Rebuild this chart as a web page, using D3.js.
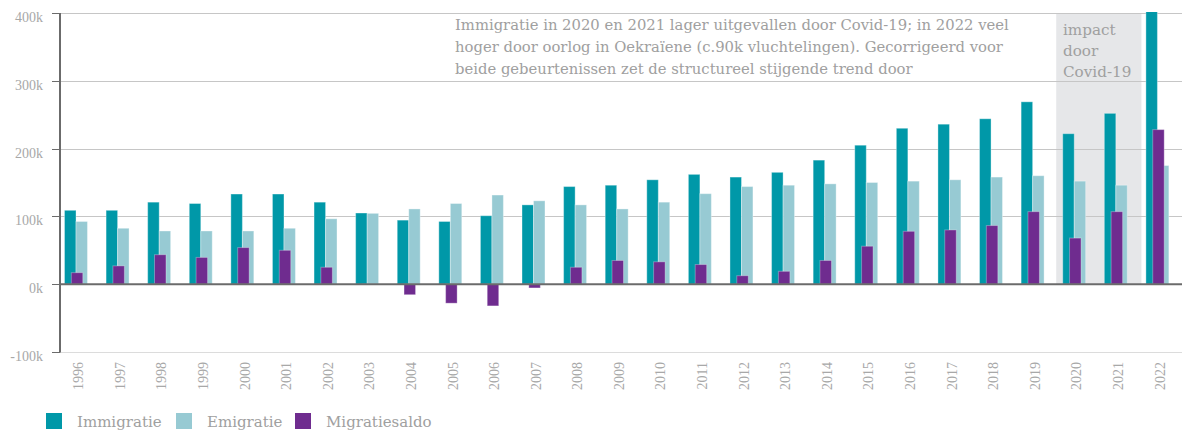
<!DOCTYPE html>
<html>
<head>
<meta charset="utf-8">
<script src="https://cdn.jsdelivr.net/npm/d3@7"></script>
<style>
  html, body { margin: 0; padding: 0; background: #fff; }
  svg { display: block; }
  text { font-family: "Liberation Serif", "DejaVu Serif", serif; }
  text.slab { font-family: "DejaVu Serif", "Liberation Serif", serif; }
</style>
</head>
<body>
<svg id="chart" width="1182" height="433"></svg>
<script>
const years = ["1996","1997","1998","1999","2000","2001","2002","2003","2004","2005","2006","2007","2008","2009","2010","2011","2012","2013","2014","2015","2016","2017","2018","2019","2020","2021","2022"];
const immigratie = [109,109,121,119,133,133,121,105,94.5,92.5,101,117,144,146,154,162,158,165,183,205,230,236,244,269,222,252,403];
const emigratie  = [92.5,82.5,78.5,78.5,78.5,82.5,96.5,104.5,111,119,131.5,123,117,111,121,133.5,144,146,148,150,152,154,158,160,152,146,175];
const saldo      = [17,27,43.5,39.5,54,50,25,-1,-15.5,-28,-32,-5.5,25,35,33,29,12.5,19,35,56,78,80,86.5,107,68,107,228];
const yTicks = [-100,0,100,200,300,400];
const seriesNames = ["Immigratie","Emigratie","Migratiesaldo"];
const colors = ["#0098a8","#97cad3","#6f2c8f"];
const annotationLines = [
  "Immigratie in 2020 en 2021 lager uitgevallen door Covid-19; in 2022 veel",
  "hoger door oorlog in Oekraïene (c.90k vluchtelingen). Gecorrigeerd voor",
  "beide gebeurtenissen zet de structureel stijgende trend door"
];
const covidLines = ["impact","door","Covid-19"];
const covidYears = ["2020","2021"];

const svg = d3.select("#chart");
const pLeft = 60, pRight = 1183, pTop = 13, pBottom = 352;

const x = d3.scaleBand().domain(years).range([pLeft, pRight]).paddingInner(0).paddingOuter(0);
const y = d3.scaleLinear().domain([-100, 400]).range([pBottom, pTop]);
const bw = x.bandwidth();

svg.append("defs").append("clipPath").attr("id","plot")
  .append("rect").attr("x", pLeft).attr("y", pTop - 1).attr("width", pRight - pLeft).attr("height", pBottom - pTop + 1);

// covid shading
svg.append("rect")
  .attr("x", x(covidYears[0]) - 2)
  .attr("y", y(400))
  .attr("width", x(covidYears[1]) + bw - x(covidYears[0]) + 2)
  .attr("height", y(0) - y(400))
  .attr("fill", "#e6e7e9");

// gridlines
svg.append("g").selectAll("line").data(yTicks.filter(d => d !== 0)).join("line")
  .attr("x1", pLeft).attr("x2", 1182)
  .attr("y1", d => Math.round(y(d)) + 0.5).attr("y2", d => Math.round(y(d)) + 0.5)
  .attr("stroke", d => d === -100 ? "#dcdcdc" : "#c6c6c6").attr("stroke-width", 1);

// y labels
svg.append("g").selectAll("text").data(yTicks).join("text")
  .attr("x", 43).attr("y", d => y(d) + 4).attr("dy", "0.35em")
  .attr("text-anchor", "end").attr("fill", "#a8a8a8").attr("font-size", 14)
  .text(d => d + "k");

// y ticks
svg.append("g").selectAll("line").data(yTicks).join("line")
  .attr("x1", 52).attr("x2", pLeft)
  .attr("y1", d => Math.round(y(d)) + 0.5).attr("y2", d => Math.round(y(d)) + 0.5)
  .attr("stroke", "#6b6b6b").attr("stroke-width", 1);

// annotation
const ann = svg.append("text").attr("class", "slab").attr("fill", "#a0a0a0").attr("font-size", 14.8);
annotationLines.forEach((l, i) => {
  ann.append("tspan").attr("x", 455).attr("y", 30 + i * 22).text(l);
});
const cov = svg.append("text").attr("class", "slab").attr("fill", "#a0a0a0").attr("font-size", 15.2);
covidLines.forEach((l, i) => {
  cov.append("tspan").attr("x", 1063).attr("y", 35 + i * 21).text(l);
});

// bars
const g = svg.append("g").attr("clip-path", "url(#plot)");
const bar = (data, f0, f1, color, stroke) => {
  g.append("g").selectAll("rect").data(data).join("rect")
    .attr("x", (d, i) => x(years[i]) + bw * f0)
    .attr("width", bw * (f1 - f0))
    .attr("y", d => y(Math.max(0, d)))
    .attr("height", d => Math.abs(y(d) - y(0)))
    .attr("fill", color)
    .attr("stroke", stroke).attr("stroke-width", 1);
};
bar(immigratie, 0.108, 0.385, colors[0], "rgba(255,255,255,0.35)");
bar(emigratie, 0.385, 0.66, colors[1], "rgba(255,255,255,0.35)");
bar(saldo, 0.272, 0.548, colors[2], "rgba(255,255,255,0.3)");

// zero line
svg.append("line").attr("x1", pLeft).attr("x2", 1182)
  .attr("y1", y(0)).attr("y2", y(0))
  .attr("stroke", "#6b6b6b").attr("stroke-width", 2);

// y axis line
svg.append("line").attr("x1", pLeft).attr("x2", pLeft)
  .attr("y1", pTop).attr("y2", pBottom + 0.5)
  .attr("stroke", "#6b6b6b").attr("stroke-width", 2);

// x labels
svg.append("g").selectAll("text").data(years).join("text")
  .attr("transform", d => `translate(${x(d) + bw / 2 - 2.5},362) rotate(-90)`)
  .attr("dy", "0.35em")
  .attr("text-anchor", "end").attr("fill", "#a8a8a8").attr("font-size", 14)
  .text(d => d);

// legend
const legendX = [46, 176, 295];
const lg = svg.append("g").selectAll("g").data(seriesNames).join("g")
  .attr("transform", (d, i) => `translate(${legendX[i]},413)`);
lg.append("rect").attr("width", 16).attr("height", 16).attr("fill", (d, i) => colors[i]);
lg.append("text").attr("class", "slab").attr("x", 31).attr("y", 14).attr("fill", "#a0a0a0").attr("font-size", 15).text(d => d);
</script>
</body>
</html>
